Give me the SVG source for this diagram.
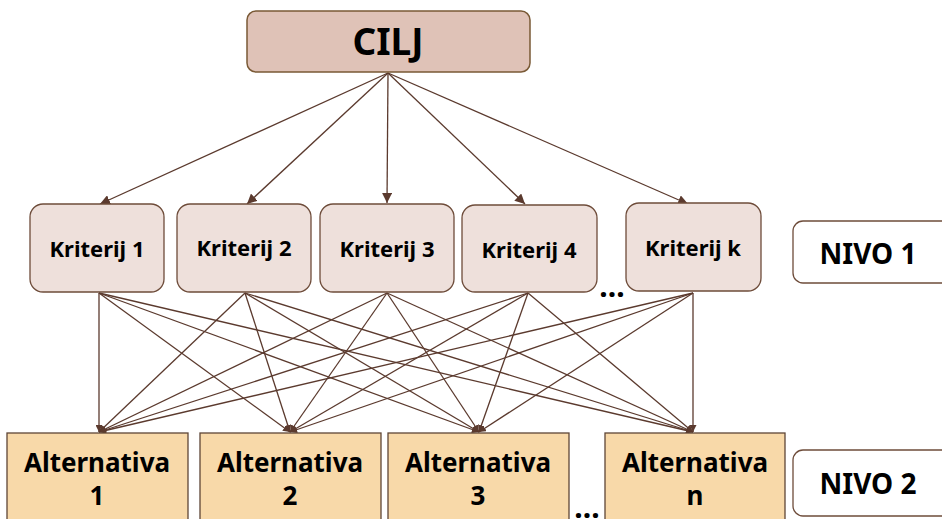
<svg xmlns="http://www.w3.org/2000/svg" width="942" height="519" viewBox="0 0 942 519">
  <defs>
    <marker id="arrow" viewBox="0 0 10 10" refX="10" refY="5" markerWidth="7" markerHeight="7" markerUnits="userSpaceOnUse" orient="auto">
      <path d="M0,0 L10,5 L0,10 z" fill="#5b3a2e"/>
    </marker>
    <marker id="arrow-lg" viewBox="0 0 10 10" refX="10" refY="5" markerWidth="10" markerHeight="10" markerUnits="userSpaceOnUse" orient="auto">
      <path d="M0,0 L10,5 L0,10 z" fill="#5b3a2e"/>
    </marker>
  </defs>
  <style>
    text { font-family: "Noto Sans", "Open Sans", "DejaVu Sans", sans-serif; font-weight: bold; fill: #000; text-anchor: middle; }
    .goal { fill: #dfc2b7; stroke: #7a5a36; stroke-width: 1.5; }
    .crit { fill: #eee0db; stroke: #6e4c3a; stroke-width: 1.3; }
    .alt { fill: #f8d9a9; stroke: #5e4536; stroke-width: 1.3; }
    .level { fill: #fff; stroke: #6e4c3a; stroke-width: 1.3; }
    .edge { stroke: #5b3a2e; stroke-width: 1.3; fill: none; }
    .top { marker-end: url(#arrow-lg); }
    .low { marker-end: url(#arrow); }
    .t-crit { font-size: 22px; }
    .t-alt { font-size: 26px; }
    .t-level { font-size: 28px; }
    .dots { font-size: 30px; }
  </style>

  <!-- connectors -->
  <g id="connectors">
    <!-- goal to criteria -->
    <line class="edge top" x1="388" y1="73" x2="100" y2="204"/>
    <line class="edge top" x1="388" y1="73" x2="247" y2="204"/>
    <line class="edge top" x1="388" y1="73" x2="387" y2="203"/>
    <line class="edge top" x1="388" y1="73" x2="525" y2="204"/>
    <line class="edge top" x1="388" y1="73" x2="688" y2="204"/>
    <!-- Kriterij 1 to alternatives -->
    <line class="edge low" x1="99" y1="293" x2="99" y2="432"/>
    <line class="edge low" x1="99" y1="293" x2="290" y2="432"/>
    <line class="edge low" x1="99" y1="293" x2="479" y2="432"/>
    <line class="edge low" x1="99" y1="293" x2="693" y2="432"/>
    <!-- Kriterij 2 to alternatives -->
    <line class="edge low" x1="245" y1="293" x2="99" y2="432"/>
    <line class="edge low" x1="245" y1="293" x2="290" y2="432"/>
    <line class="edge low" x1="245" y1="293" x2="479" y2="432"/>
    <line class="edge low" x1="245" y1="293" x2="693" y2="432"/>
    <!-- Kriterij 3 to alternatives -->
    <line class="edge low" x1="387" y1="293" x2="99" y2="432"/>
    <line class="edge low" x1="387" y1="293" x2="290" y2="432"/>
    <line class="edge low" x1="387" y1="293" x2="479" y2="432"/>
    <line class="edge low" x1="387" y1="293" x2="693" y2="432"/>
    <!-- Kriterij 4 to alternatives -->
    <line class="edge low" x1="528" y1="293" x2="99" y2="432"/>
    <line class="edge low" x1="528" y1="293" x2="290" y2="432"/>
    <line class="edge low" x1="528" y1="293" x2="479" y2="432"/>
    <line class="edge low" x1="528" y1="293" x2="693" y2="432"/>
    <!-- Kriterij k to alternatives -->
    <line class="edge low" x1="693" y1="293" x2="99" y2="432"/>
    <line class="edge low" x1="693" y1="293" x2="290" y2="432"/>
    <line class="edge low" x1="693" y1="293" x2="479" y2="432"/>
    <line class="edge low" x1="693" y1="293" x2="693" y2="432"/>
  </g>

  <!-- goal -->
  <g id="cilj">
    <rect class="goal" x="247" y="11" width="283" height="61" rx="9"/>
    <text x="388" y="55" style="font-size:37px">CILJ</text>
  </g>

  <!-- criteria (level 1) -->
  <g id="kriterij-1">
    <rect class="crit" x="30" y="204" width="134" height="88" rx="13"/>
    <text class="t-crit" x="97" y="257">Kriterij 1</text>
  </g>
  <g id="kriterij-2">
    <rect class="crit" x="177" y="204" width="134" height="88" rx="13"/>
    <text class="t-crit" x="244" y="256">Kriterij 2</text>
  </g>
  <g id="kriterij-3">
    <rect class="crit" x="320" y="204" width="134" height="88" rx="13"/>
    <text class="t-crit" x="387" y="257">Kriterij 3</text>
  </g>
  <g id="kriterij-4">
    <rect class="crit" x="462" y="205" width="135" height="87" rx="13"/>
    <text class="t-crit" x="529" y="258">Kriterij 4</text>
  </g>
  <g id="kriterij-k">
    <rect class="crit" x="626" y="203" width="135" height="88" rx="13"/>
    <text class="t-crit" x="693" y="256">Kriterij k</text>
  </g>
  <text id="dots-1" class="dots" x="612" y="297">...</text>

  <!-- alternatives (level 2) -->
  <g id="alternativa-1">
    <rect class="alt" x="7" y="433" width="181" height="100"/>
    <text class="t-alt" x="97" y="472">Alternativa</text>
    <text class="t-alt" x="97" y="505">1</text>
  </g>
  <g id="alternativa-2">
    <rect class="alt" x="200" y="433" width="181" height="100"/>
    <text class="t-alt" x="290" y="472">Alternativa</text>
    <text class="t-alt" x="290" y="505">2</text>
  </g>
  <g id="alternativa-3">
    <rect class="alt" x="388" y="433" width="181" height="100"/>
    <text class="t-alt" x="478" y="472">Alternativa</text>
    <text class="t-alt" x="478" y="505">3</text>
  </g>
  <g id="alternativa-n">
    <rect class="alt" x="605" y="433" width="180" height="100"/>
    <text class="t-alt" x="695" y="472">Alternativa</text>
    <text class="t-alt" x="695" y="505">n</text>
  </g>
  <text id="dots-2" class="dots" x="587" y="518">...</text>

  <!-- level labels -->
  <g id="nivo-1">
    <rect class="level" x="793" y="221" width="160" height="62" rx="10"/>
    <text class="t-level" x="868" y="264">NIVO 1</text>
  </g>
  <g id="nivo-2">
    <rect class="level" x="793" y="450" width="160" height="66" rx="10"/>
    <text class="t-level" x="868" y="494">NIVO 2</text>
  </g>
</svg>
